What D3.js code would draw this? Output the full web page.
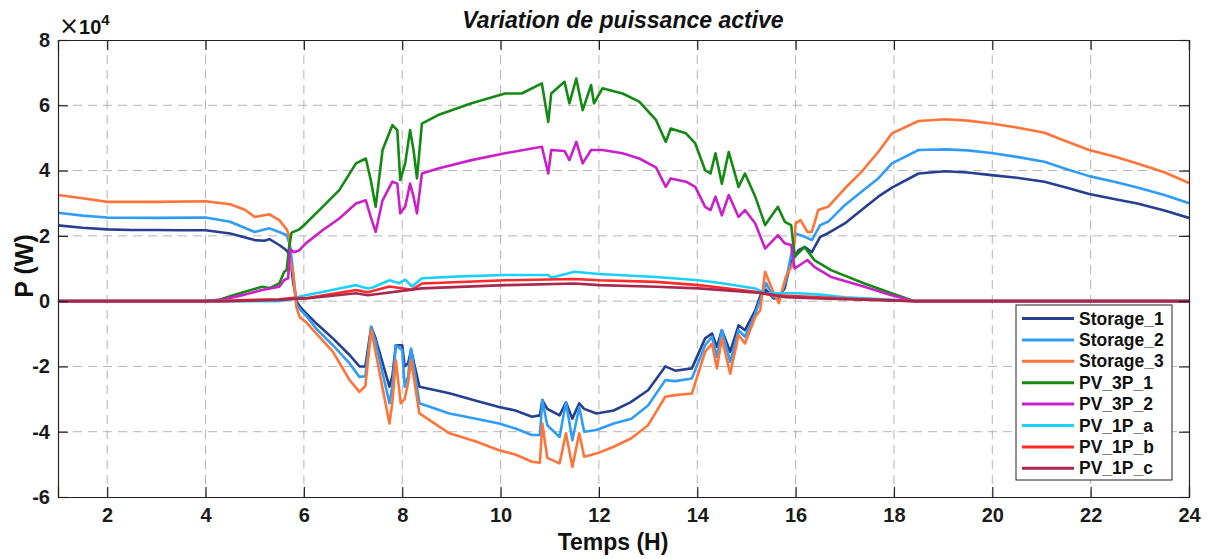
<!DOCTYPE html>
<html><head><meta charset="utf-8">
<script src="https://cdn.jsdelivr.net/npm/d3@7"></script>
<style>body{margin:0;background:#fff}svg{display:block}text{font-family:"Liberation Sans",Arial,sans-serif}</style>
</head><body>
<script>
// values in units of 1e4 W, time in hours
const seriesNames = ["Storage_1","Storage_2","Storage_3","PV_3P_1","PV_3P_2","PV_1P_a","PV_1P_b","PV_1P_c"];
const seriesColors = ["#263f91","#2f9df5","#ff7438","#138a13","#cc1fcc","#1ad0ff","#ff2a2a","#a8294f"];
const xTicks = [2,4,6,8,10,12,14,16,18,20,22,24];
const yTicks = [-6,-4,-2,0,2,4,6,8];

const storage1 = [[1,2.32],[1.5,2.25],[2,2.2],[2.5,2.18],[3,2.18],[3.5,2.17],[4,2.17],[4.5,2.07],[5,1.87],[5.2,1.85],[5.3,1.9],[5.5,1.72],[5.65,1.55],[5.72,1.4],[5.78,0.6],[5.85,0.0],[5.92,-0.17],[6.02,-0.33],[6.25,-0.68],[6.59,-1.14],[6.93,-1.65],[7.13,-2.0],[7.25,-2.0],[7.37,-0.79],[7.45,-1.1],[7.74,-2.62],[7.8,-2.3],[7.87,-1.35],[8.0,-1.35],[8.05,-2.0],[8.12,-1.9],[8.18,-1.5],[8.35,-2.62],[8.96,-2.82],[9.5,-3.05],[9.97,-3.24],[10.3,-3.35],[10.64,-3.54],[10.8,-3.5],[10.85,-3.03],[10.95,-3.3],[11.2,-3.5],[11.33,-3.1],[11.46,-3.6],[11.6,-3.13],[11.7,-3.3],[11.95,-3.44],[12.3,-3.35],[12.64,-3.1],[13.0,-2.73],[13.35,-2.0],[13.55,-2.13],[13.89,-2.06],[14.16,-1.14],[14.3,-0.99],[14.4,-1.4],[14.5,-0.89],[14.67,-1.55],[14.84,-0.74],[14.97,-0.89],[15.18,-0.28],[15.3,0.24],[15.4,0.35],[15.55,0.08],[15.65,0.1],[15.78,0.4],[15.9,1.2],[16.0,1.41],[16.06,1.56],[16.19,1.66],[16.33,1.5],[16.5,1.97],[16.66,2.08],[17.0,2.38],[17.34,2.79],[17.68,3.2],[17.96,3.48],[18.5,3.91],[19.04,3.98],[19.5,3.94],[19.98,3.86],[20.5,3.78],[21.06,3.66],[21.5,3.48],[21.97,3.28],[22.5,3.12],[22.95,2.99],[23.5,2.78],[24,2.55]];
const storage2 = [[1,2.71],[1.5,2.62],[2,2.56],[3,2.55],[4,2.56],[4.5,2.43],[5,2.12],[5.3,2.23],[5.5,2.12],[5.65,2.02],[5.72,1.7],[5.78,0.9],[5.85,-0.1],[5.95,-0.3],[6.05,-0.45],[6.25,-0.84],[6.59,-1.35],[6.93,-1.91],[7.13,-2.32],[7.25,-2.3],[7.37,-0.79],[7.45,-1.2],[7.74,-3.13],[7.8,-2.6],[7.87,-1.35],[8.0,-1.5],[8.05,-2.62],[8.12,-2.3],[8.18,-1.45],[8.35,-3.13],[8.96,-3.44],[9.5,-3.6],[9.97,-3.75],[10.3,-3.9],[10.64,-4.1],[10.8,-4.1],[10.85,-3.03],[10.95,-3.8],[11.2,-4.16],[11.33,-3.1],[11.46,-4.26],[11.6,-3.24],[11.7,-4.0],[11.95,-3.95],[12.3,-3.75],[12.66,-3.6],[13.0,-3.2],[13.35,-2.42],[13.55,-2.45],[13.89,-2.37],[14.16,-1.35],[14.3,-1.09],[14.4,-1.71],[14.5,-0.89],[14.67,-1.86],[14.84,-0.89],[14.97,-1.09],[15.18,-0.38],[15.3,0.13],[15.4,0.55],[15.55,0.13],[15.68,0.15],[15.8,0.6],[15.93,1.56],[16.0,2.07],[16.1,2.02],[16.19,1.97],[16.33,1.87],[16.5,2.33],[16.66,2.43],[17.0,2.94],[17.34,3.35],[17.68,3.76],[17.96,4.22],[18.5,4.63],[19.04,4.65],[19.5,4.62],[19.98,4.54],[20.5,4.42],[21.06,4.27],[21.5,4.05],[21.97,3.83],[22.5,3.65],[22.95,3.48],[23.5,3.25],[24,3.0]];
const storage3 = [[1,3.25],[1.5,3.15],[2,3.04],[3,3.04],[4,3.06],[4.5,2.97],[4.8,2.8],[5,2.58],[5.3,2.66],[5.5,2.48],[5.65,2.2],[5.7,2.0],[5.72,1.2],[5.78,0.9],[5.85,-0.2],[5.92,-0.5],[6.05,-0.65],[6.25,-0.99],[6.59,-1.55],[6.93,-2.42],[7.13,-2.78],[7.25,-2.6],[7.37,-0.89],[7.45,-1.5],[7.74,-3.75],[7.8,-3.1],[7.87,-1.81],[7.97,-3.13],[8.05,-3.0],[8.12,-2.5],[8.18,-1.81],[8.35,-3.44],[8.96,-4.05],[9.5,-4.3],[9.97,-4.57],[10.3,-4.7],[10.64,-4.92],[10.8,-4.95],[10.85,-3.75],[10.95,-4.8],[11.2,-4.97],[11.33,-4.05],[11.46,-5.08],[11.6,-4.05],[11.7,-4.77],[11.95,-4.67],[12.3,-4.46],[12.66,-4.2],[13.0,-3.8],[13.35,-2.93],[13.55,-2.88],[13.89,-2.83],[14.16,-1.55],[14.3,-1.3],[14.4,-2.06],[14.5,-1.14],[14.67,-2.22],[14.84,-1.04],[14.97,-1.3],[15.18,-0.48],[15.28,-0.28],[15.38,0.9],[15.53,0.34],[15.66,-0.06],[15.8,0.74],[15.95,1.15],[16.0,2.38],[16.1,2.48],[16.24,2.12],[16.33,2.12],[16.46,2.79],[16.66,2.89],[17.0,3.45],[17.34,3.96],[17.68,4.57],[17.96,5.14],[18.5,5.52],[19.04,5.57],[19.5,5.53],[19.98,5.44],[20.5,5.32],[21.06,5.16],[21.5,4.9],[21.97,4.63],[22.5,4.42],[22.95,4.22],[23.5,3.95],[24,3.62]];
const pv3p1 = [[1,0],[4,0],[4.3,0.05],[4.5,0.15],[4.8,0.29],[5.15,0.44],[5.3,0.4],[5.5,0.54],[5.6,0.9],[5.65,0.95],[5.7,1.66],[5.75,2.1],[5.91,2.2],[6.04,2.38],[6.38,2.89],[6.72,3.4],[7.06,4.22],[7.26,4.37],[7.36,3.71],[7.46,2.89],[7.6,4.63],[7.8,5.39],[7.9,5.24],[7.96,3.71],[8.06,4.22],[8.16,5.24],[8.23,4.63],[8.3,3.76],[8.4,5.44],[8.73,5.7],[9.41,6.06],[10.09,6.36],[10.43,6.36],[10.84,6.67],[10.97,5.49],[11.03,6.36],[11.3,6.72],[11.4,6.06],[11.54,6.82],[11.67,5.85],[11.84,6.62],[11.9,6.06],[12.07,6.52],[12.48,6.36],[12.82,6.11],[13.16,5.55],[13.36,4.88],[13.46,5.29],[13.77,5.14],[13.96,4.83],[14.16,4.01],[14.27,3.91],[14.37,4.53],[14.5,3.6],[14.64,4.57],[14.84,3.5],[14.97,3.91],[15.18,3.2],[15.38,2.33],[15.64,2.89],[15.78,2.43],[15.91,2.33],[15.98,1.36],[16.18,1.66],[16.38,1.26],[16.72,0.95],[17.4,0.54],[17.95,0.24],[18.42,0],[24,0]];
const pv3p2 = [[1,0],[4,0],[4.3,0.03],[4.5,0.1],[4.8,0.2],[5.15,0.34],[5.5,0.44],[5.6,0.65],[5.68,0.7],[5.72,1.6],[5.8,1.5],[5.91,1.56],[6.04,1.77],[6.38,2.17],[6.72,2.53],[7.06,2.99],[7.26,3.09],[7.36,2.58],[7.46,2.12],[7.6,3.09],[7.8,3.66],[7.9,3.6],[7.96,2.69],[8.06,2.89],[8.16,3.6],[8.23,3.2],[8.3,2.69],[8.4,3.91],[8.73,4.06],[9.41,4.32],[10.09,4.53],[10.84,4.73],[10.97,3.91],[11.03,4.63],[11.3,4.6],[11.4,4.32],[11.54,4.88],[11.67,4.22],[11.84,4.63],[12.07,4.63],[12.48,4.53],[12.82,4.37],[13.16,4.1],[13.36,3.5],[13.46,3.76],[13.77,3.66],[13.96,3.5],[14.16,2.89],[14.27,2.79],[14.37,3.2],[14.5,2.63],[14.64,3.25],[14.84,2.58],[14.97,2.79],[15.18,2.38],[15.38,1.61],[15.64,2.02],[15.78,1.77],[15.91,1.72],[15.98,1.0],[16.24,1.26],[16.38,1.05],[16.72,0.74],[17.4,0.44],[17.95,0.18],[18.42,0],[24,0]];
const pv1pa = [[1,0],[5.5,0],[5.7,0.05],[5.85,0.12],[6.04,0.18],[6.5,0.32],[7.06,0.49],[7.3,0.39],[7.4,0.42],[7.74,0.64],[7.94,0.55],[8.06,0.66],[8.2,0.45],[8.4,0.7],[9.2,0.76],[10.09,0.8],[10.97,0.8],[11.03,0.72],[11.5,0.9],[12.0,0.83],[13.16,0.74],[14.03,0.64],[14.5,0.55],[15.18,0.39],[15.38,0.24],[16.06,0.24],[16.5,0.2],[17.0,0.12],[17.9,0.05],[18.42,0],[24,0]];
const pv1pb = [[1,0],[4.3,0],[4.8,0.03],[5.5,0.06],[5.8,0.1],[6.04,0.09],[6.5,0.2],[7.06,0.34],[7.3,0.27],[7.74,0.45],[8.2,0.35],[8.4,0.54],[10.09,0.64],[11.5,0.68],[12.0,0.64],[13.16,0.59],[14.03,0.49],[15.18,0.29],[15.5,0.18],[16.06,0.15],[17.0,0.08],[18.42,0],[24,0]];
const pv1pc = [[1,0],[4.5,0],[5.5,0.04],[5.8,0.07],[6.04,0.08],[7.06,0.24],[7.3,0.18],[8.4,0.39],[10.09,0.49],[11.5,0.54],[12.0,0.49],[13.16,0.44],[14.03,0.39],[15.38,0.24],[15.8,0.12],[16.5,0.08],[17.5,0.04],[18.42,0],[24,0]];
const seriesData = [storage1,storage2,storage3,pv3p1,pv3p2,pv1pa,pv1pb,pv1pc];

const W = 1207, H = 559;
const m = {left:58, right:1189, top:40, bottom:497};
const svg = d3.select("body").append("svg").attr("width",W).attr("height",H);
const x = d3.scaleLinear().domain([1,24]).range([m.left,m.right]);
const y = d3.scaleLinear().domain([-6,8]).range([m.bottom,m.top]);

// grid
const g = svg.append("g");
g.selectAll(".gx").data(xTicks.filter(t=>t<24)).enter().append("line")
  .attr("x1",d=>x(d)).attr("x2",d=>x(d)).attr("y1",m.top).attr("y2",m.bottom)
  .attr("stroke","#b4b4b4").attr("stroke-width",1).attr("stroke-dasharray","9,6");
g.selectAll(".gy").data(yTicks.filter(t=>t>-6&&t<8)).enter().append("line")
  .attr("x1",m.left).attr("x2",m.right).attr("y1",d=>y(d)).attr("y2",d=>y(d))
  .attr("stroke","#b4b4b4").attr("stroke-width",1).attr("stroke-dasharray","9,6");

// lines
const line = d3.line().x(d=>x(d[0])).y(d=>y(d[1]));
svg.append("defs").append("clipPath").attr("id","clip").append("rect")
  .attr("x",m.left).attr("y",m.top).attr("width",m.right-m.left).attr("height",m.bottom-m.top);
const lg = svg.append("g").attr("clip-path","url(#clip)");
seriesData.forEach((s,i)=>{
  lg.append("path").attr("d",line(s)).attr("fill","none")
    .attr("stroke",seriesColors[i]).attr("stroke-width",2.6).attr("stroke-linejoin","round");
});

// axes (ticks inward)
const fmt = d => String(d);
const axB = d3.axisBottom(x).tickValues(xTicks).tickSize(-10).tickPadding(11).tickFormat(fmt);
const axT = d3.axisTop(x).tickValues(xTicks).tickSize(-10).tickFormat("");
const axL = d3.axisLeft(y).tickValues(yTicks).tickSize(-10).tickPadding(8).tickFormat(fmt);
const axR = d3.axisRight(y).tickValues(yTicks).tickSize(-10).tickFormat("");
function style(sel){
  sel.select(".domain").attr("stroke","#222").attr("stroke-width",1.2);
  sel.selectAll(".tick line").attr("stroke","#222").attr("stroke-width",1.2);
  sel.selectAll("text").attr("font-size",20).attr("font-weight","bold").attr("fill","#1a1a1a");
}
svg.append("g").attr("transform",`translate(0,${m.bottom})`).call(axB).call(style);
svg.append("g").attr("transform",`translate(0,${m.top})`).call(axT).call(style);
svg.append("g").attr("transform",`translate(${m.left},0)`).call(axL).call(style);
svg.append("g").attr("transform",`translate(${m.right},0)`).call(axR).call(style);

// title, labels
svg.append("text").attr("x",623).attr("y",28).attr("text-anchor","middle")
  .attr("font-size",23).attr("font-weight","bold").attr("font-style","italic").attr("fill","#111")
  .text("Variation de puissance active");
svg.append("text").attr("x",613).attr("y",550).attr("text-anchor","middle")
  .attr("font-size",23).attr("font-weight","bold").attr("fill","#111").text("Temps (H)");
svg.append("text").attr("transform","translate(33,266) rotate(-90)").attr("text-anchor","middle")
  .attr("font-size",25).attr("font-weight","bold").attr("fill","#111").text("P (W)");
const ex = svg.append("text").attr("x",59).attr("y",34).attr("fill","#111");
ex.append("tspan").attr("font-size",24).attr("font-family","DejaVu Sans").attr("font-weight","normal").text("\u00d7");
ex.append("tspan").attr("font-size",20).attr("font-weight","bold").text("10");
ex.append("tspan").attr("font-size",15).attr("font-weight","bold").attr("dy",-9).text("4");

// legend
const lgx = 1016, lgy = 305, lgw = 156, lgh = 175;
const leg = svg.append("g");
leg.append("rect").attr("x",lgx).attr("y",lgy).attr("width",lgw).attr("height",lgh)
  .attr("fill","#fff").attr("stroke","#222").attr("stroke-width",1);
seriesNames.forEach((n,i)=>{
  const yy = 318.5 + i*21.4;
  leg.append("line").attr("x1",1022).attr("x2",1074).attr("y1",yy).attr("y2",yy)
    .attr("stroke",seriesColors[i]).attr("stroke-width",3);
  leg.append("text").attr("x",1079).attr("y",yy).attr("dy","0.35em")
    .attr("font-size",17.5).attr("font-weight","bold").attr("fill","#111").text(n);
});
</script>
</body></html>
